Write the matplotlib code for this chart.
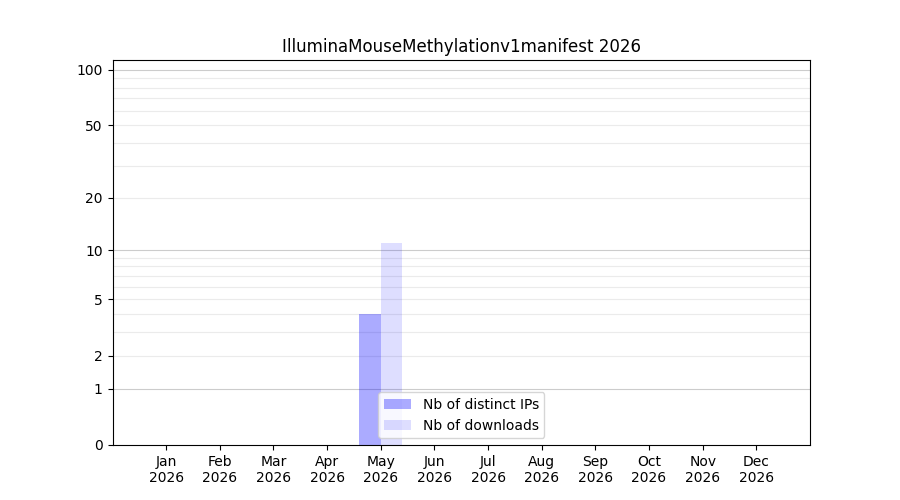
import numpy as np
import matplotlib
matplotlib.use("Agg")
import matplotlib.pyplot as plt

months = ["Jan", "Feb", "Mar", "Apr", "May", "Jun", "Jul", "Aug", "Sep", "Oct", "Nov", "Dec"]
year = "2026"
distinct_ips = [0, 0, 0, 0, 4, 0, 0, 0, 0, 0, 0, 0]
downloads = [0, 0, 0, 0, 11, 0, 0, 0, 0, 0, 0, 0]
major_ticks = [0, 1, 2, 5, 10, 20, 50, 100]
major_grid = [1, 10, 100]
minor_grid = [2, 3, 4, 5, 6, 7, 8, 9, 20, 30, 40, 50, 60, 70, 80, 90]

fig, ax = plt.subplots(figsize=(9, 5), dpi=100)
x = np.arange(len(months))

ax.set_yscale("function", functions=(lambda v: np.log10(1 + np.clip(v, 0, None)),
                                     lambda v: 10 ** v - 1))

for g in minor_grid:
    ax.axhline(g, color="#ebebeb", linewidth=0.8, zorder=0.5)
for g in major_grid:
    ax.axhline(g, color="#cccccc", linewidth=0.8, zorder=0.5)

ax.bar(x - 0.2, distinct_ips, width=0.4, color="blue", alpha=0.33, label="Nb of distinct IPs", zorder=1)
ax.bar(x + 0.2, downloads, width=0.4, color="blue", alpha=0.13, label="Nb of downloads", zorder=1)

ax.set_xlim(-1, 12)
ax.set_ylim(0, 113)
ax.set_yticks(major_ticks)
ax.set_yticklabels([str(t) for t in major_ticks])
ax.yaxis.set_minor_locator(matplotlib.ticker.NullLocator())
ax.set_xticks(x)
ax.set_xticklabels([f"{m}\n{year}" for m in months])
ax.set_title("IlluminaMouseMethylationv1manifest 2026")
ax.legend(loc="lower center")

fig.savefig("out.png")
